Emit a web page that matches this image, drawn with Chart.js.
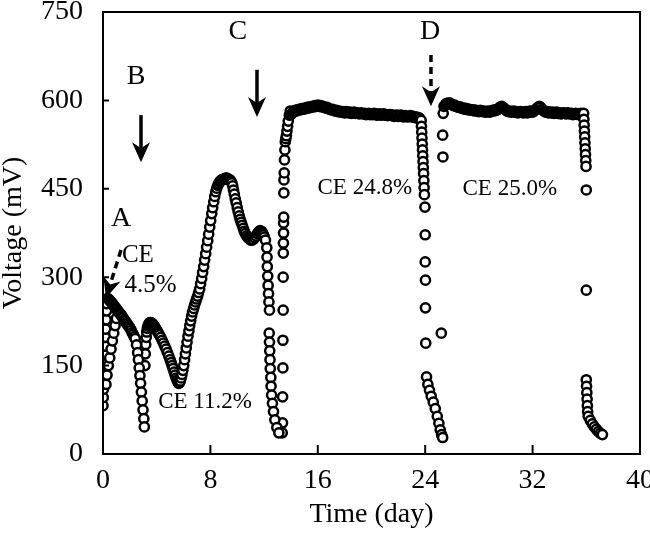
<!DOCTYPE html>
<html>
<head>
<meta charset="utf-8">
<script src="https://cdn.jsdelivr.net/npm/chart.js@4.4.1/dist/chart.umd.min.js"></script>
<style>
  html, body { margin: 0; padding: 0; background: #fff; }
  #wrap { width: 650px; height: 535px; }
</style>
</head>
<body>
<div id="wrap"><canvas id="chart" width="650" height="535"></canvas></div>
<script>
// Voltage vs time over four feeding cycles (A-D)

var FONT = '"Liberation Serif", "Times New Roman", serif';

var xTicks = [0, 8, 16, 24, 32, 40];
var yTicks = [0, 150, 300, 450, 600, 750];

// cycle A: start-up and first batch
var daysA = [0, 0.02, 0.04, 0.06, 0.08, 0.1, 0.12, 0.15, 0.18, 0.2, 0.23, 0.26, 0.3, 0.35,
  0.22, 0.3, 0.4, 0.5, 0.6, 0.7, 0.8, 0.9, 1.0,
  0.45, 0.52, 0.6, 0.67, 0.75, 0.82, 0.9, 0.97, 1.05, 1.12, 1.2, 1.27, 1.35, 1.42,
  1.5, 1.57, 1.65, 1.72, 1.8, 1.87, 1.95, 2.02, 2.1, 2.17, 2.25, 2.32, 2.4,
  2.5, 2.58, 2.64, 2.7, 2.75, 2.8, 2.86, 2.92, 2.98, 3.04, 3.08];
var voltsA = [82, 96, 110, 124, 139, 153, 168, 183, 198, 212, 228, 243, 255, 264,
  118, 134, 150, 163, 178, 192, 205, 218, 230,
  262, 260, 258, 256, 254, 251, 249, 247, 245, 242, 240, 238, 236, 233,
  231, 228, 226, 223, 221, 218, 216, 213, 210, 206, 203, 199, 196,
  185, 172, 160, 146, 133, 120, 105, 90, 75, 60, 46];

// cycle B
var daysB = [3.12, 3.15, 3.18, 3.22, 3.26, 3.3, 3.35, 3.4, 3.45, 3.5,
  3.56, 3.62, 3.68, 3.75, 3.82, 3.9, 3.98, 4.05, 4.12, 4.2,
  4.3, 4.4, 4.5, 4.6, 4.7, 4.8, 4.9, 5.0, 5.08, 5.15,
  5.22, 5.3, 5.37, 5.45, 5.52, 5.58, 5.64, 5.7, 5.76, 5.82,
  5.88, 5.95, 6.01, 6.08, 6.14, 6.2, 6.26, 6.33, 6.4, 6.46,
  6.53, 6.6, 6.67, 6.75, 6.82, 6.9, 6.97, 7.05, 7.12, 7.2,
  7.27, 7.35, 7.42, 7.5, 7.57, 7.65, 7.72, 7.8, 7.87, 7.95,
  8.02, 8.1, 8.17, 8.25, 8.32, 8.4, 8.47, 8.55, 8.62, 8.7,
  8.77, 8.85, 8.92, 9.0, 9.07, 9.15, 9.22, 9.3, 9.37, 9.45,
  9.52, 9.6, 9.66, 9.72, 9.78, 9.85, 9.92, 10.0, 10.07, 10.15,
  10.22, 10.3, 10.37, 10.45, 10.52, 10.6, 10.7, 10.8, 10.9, 11.0,
  11.1, 11.2, 11.3, 11.4, 11.5, 11.6, 11.7, 11.8, 11.88, 11.95,
  12.02, 12.1,
  12.2, 12.22, 12.24, 12.27, 12.3, 12.33, 12.36, 12.4, 12.38, 12.4,
  12.42, 12.44, 12.46, 12.5, 12.52, 12.56, 12.62, 12.7, 12.8, 12.95, 13.1];
var voltsB = [150, 170, 186, 198, 207, 213, 217, 220, 222, 223,
  223, 222, 221, 219, 217, 214, 211, 208, 205, 202,
  198, 193, 188, 183, 178, 172, 166, 160, 155, 150,
  145, 139, 134, 129, 125, 122, 120, 121, 124, 129,
  135, 142, 150, 160, 170, 180, 190, 200, 209, 218,
  226, 234, 241, 247, 253, 258, 263, 268, 274, 280,
  289, 298, 308, 318, 329, 340, 351, 362, 373, 385,
  396, 408, 418, 428, 437, 445, 451, 456, 459, 462,
  464, 465, 466, 466, 467, 468, 468, 467, 466, 465,
  463, 460, 455, 448, 441, 433, 426, 418, 411, 404,
  398, 393, 388, 383, 378, 374, 370, 367, 365, 363,
  363, 364, 367, 370, 374, 377, 379, 378, 375, 372,
  368, 363,
  350, 334, 318, 302, 286, 272, 258, 244, 205, 190,
  175, 160, 145, 130, 115, 100, 86, 72, 58, 45, 36];

// cycle C: rise, plateau, drop
var daysC = [13.35, 13.37, 13.38, 13.4, 13.4, 13.42, 13.42, 13.43, 13.44, 13.45,
  13.45, 13.46, 13.47, 13.48, 13.5, 13.52, 13.55, 13.58, 13.62, 13.66,
  13.7, 13.75, 13.8, 13.88, 13.95,
  14.0, 14.1, 14.2, 14.3, 14.4, 14.5, 14.6, 14.7, 14.8, 14.9,
  15.0, 15.1, 15.2, 15.3, 15.4, 15.5, 15.6, 15.7, 15.8, 15.9,
  16.0, 16.1, 16.2, 16.3, 16.4, 16.5, 16.6, 16.7, 16.8, 16.9,
  17.0, 17.1, 17.2, 17.3, 17.4, 17.5, 17.6, 17.7, 17.8, 17.9,
  18.0, 18.1, 18.2, 18.3, 18.4, 18.5, 18.6, 18.7, 18.8, 18.9,
  19.0, 19.1, 19.2, 19.3, 19.4, 19.5, 19.6, 19.7, 19.8, 19.9,
  20.0, 20.1, 20.2, 20.3, 20.4, 20.5, 20.6, 20.7, 20.8, 20.9,
  21.0, 21.1, 21.2, 21.3, 21.4, 21.5, 21.6, 21.7, 21.8, 21.9,
  22.0, 22.1, 22.2, 22.3, 22.4, 22.5, 22.6, 22.7, 22.8, 22.9,
  23.0, 23.1, 23.2, 23.3, 23.4, 23.5, 23.6,
  23.7, 23.72, 23.74, 23.76, 23.78, 23.8, 23.82, 23.84, 23.86, 23.88,
  23.9, 23.92, 23.94, 23.98, 24.0, 24.0, 24.02, 24.02, 24.04,
  24.1, 24.2, 24.32, 24.45, 24.6, 24.75, 24.9, 25.02, 25.12, 25.22, 25.3];
var voltsC = [36, 53, 97, 146, 193, 244, 300, 341, 358, 375,
  392, 402, 443, 465, 477, 499, 516, 530, 535, 540,
  548, 556, 565, 575, 582,
  576, 579, 581, 583, 582, 584, 585, 584, 586, 585,
  587, 586, 588, 587, 589, 588, 590, 589, 591, 590,
  592, 590, 591, 589, 590, 588, 587, 588, 586, 585,
  584, 585, 583, 582, 583, 581, 582, 580, 581, 580,
  579, 581, 580, 579, 580, 578, 579, 580, 578, 579,
  578, 577, 579, 578, 577, 578, 576, 577, 578, 576,
  577, 576, 578, 577, 575, 576, 577, 575, 576, 577,
  575, 576, 574, 575, 576, 574, 575, 573, 574, 575,
  573, 574, 575, 573, 572, 574, 573, 572, 573, 574,
  572, 573, 571, 572, 570, 571, 569,
  566, 556, 546, 536, 526, 516, 506, 496, 486, 476,
  464, 452, 440, 419, 372, 326, 295, 248, 188,
  131, 118, 108, 98, 88, 77, 64, 52, 41, 33, 28];

// cycle D
var daysD = [25.2, 25.32, 25.3, 25.34,
  25.4, 25.5, 25.6, 25.7, 25.8, 25.9, 26.0, 26.1, 26.2, 26.3,
  26.4, 26.5, 26.6, 26.7, 26.8, 26.9, 27.0, 27.1, 27.2, 27.3,
  27.4, 27.5, 27.6, 27.7, 27.8, 27.9, 28.0, 28.1, 28.2, 28.3,
  28.4, 28.5, 28.6, 28.7, 28.8, 28.9, 29.0, 29.1, 29.2, 29.3,
  29.4, 29.5, 29.6, 29.7, 29.8, 29.9, 30.0, 30.1, 30.2, 30.3,
  30.4, 30.5, 30.6, 30.7, 30.8, 30.9, 31.0, 31.1, 31.2, 31.3,
  31.4, 31.5, 31.6, 31.7, 31.8, 31.9, 32.0, 32.1, 32.2, 32.3,
  32.4, 32.5, 32.6, 32.7, 32.8, 32.9, 33.0, 33.1, 33.2, 33.3,
  33.4, 33.5, 33.6, 33.7, 33.8, 33.9, 34.0, 34.1, 34.2, 34.3,
  34.4, 34.5, 34.6, 34.7, 34.8, 34.9, 35.0, 35.1, 35.2, 35.3,
  35.4, 35.5, 35.6, 35.7,
  35.8, 35.82, 35.84, 35.86, 35.88, 35.9, 35.92, 35.94, 35.96, 35.98,
  36.0, 36.0, 36.0, 36.02, 36.04, 36.06, 36.08, 36.1, 36.14,
  36.3, 36.45, 36.6, 36.75, 36.9, 37.05, 37.2];
var voltsD = [205, 504, 541, 578,
  590, 593, 595, 594, 596, 594, 593, 591, 592, 590,
  589, 588, 589, 587, 586, 587, 585, 586, 584, 585,
  584, 583, 584, 582, 583, 582, 581, 583, 582, 581,
  582, 580, 581, 582, 580, 581, 583, 582, 584, 583,
  585, 587, 589, 590, 588, 586, 584, 582, 581, 582,
  580, 581, 582, 580, 581, 579, 580, 581, 580, 579,
  580, 581, 579, 580, 582, 581, 580, 582, 584, 586,
  588, 590, 588, 585, 583, 581, 580, 581, 579, 580,
  579, 580, 578, 579, 580, 578, 579, 577, 578, 579,
  578, 577, 579, 578, 577, 578, 576, 577, 578, 577,
  576, 577, 578, 576,
  578, 568, 558, 548, 538, 528, 518, 508, 498, 488,
  448, 278, 126, 115, 104, 93, 82, 72, 64,
  57, 51, 46, 42, 38, 35, 33];

// annotations (in data units)
var letterText = ['A', 'B', 'C', 'D'];
var letterDay = [1.34, 2.46, 10.05, 24.36];
var letterVolt = [400, 640, 716, 716];

var noteText = ['CE', '4.5%', 'CE 11.2%', 'CE 24.8%', 'CE 25.0%'];
var noteDay = [2.6, 3.55, 7.6, 19.5, 30.3];
var noteVolt = [337, 286, 88, 451, 450];
var noteSize = [25, 25, 23, 23, 23];

var arrowFrom = [[1.34, 346], [2.83, 575], [11.47, 652], [24.43, 677]];
var arrowTo = [[0.22, 265], [2.83, 495], [11.47, 572], [24.43, 590]];
var arrowDashed = [true, false, false, true];

function pts(days, volts) {
  return days.map(function (d, i) { return { x: d, y: volts[i] }; });
}

function series(label, days, volts) {
  return {
    label: label,
    data: pts(days, volts),
    showLine: false,
    pointStyle: 'circle',
    pointRadius: 4.6,
    pointBorderWidth: 2.5,
    pointBorderColor: '#000',
    pointBackgroundColor: '#fff'
  };
}

function drawArrow(ctx, x1, y1, x2, y2, dashed) {
  var ang = Math.atan2(y2 - y1, x2 - x1);
  var c = Math.cos(ang), s = Math.sin(ang);
  var len = 20, half = 9, notch = 14;
  ctx.save();
  ctx.lineWidth = 3.5;
  if (dashed) ctx.setLineDash([7, 5]);
  ctx.beginPath();
  ctx.moveTo(x1, y1);
  ctx.lineTo(x2 - c * notch, y2 - s * notch);
  ctx.stroke();
  ctx.setLineDash([]);
  ctx.beginPath();
  ctx.moveTo(x2, y2);
  ctx.lineTo(x2 - c * len - s * half, y2 - s * len + c * half);
  ctx.lineTo(x2 - c * notch, y2 - s * notch);
  ctx.lineTo(x2 - c * len + s * half, y2 - s * len - c * half);
  ctx.closePath();
  ctx.fill();
  ctx.restore();
}

var decor = {
  id: 'decor',
  afterDatasetsDraw: function (chart) {
    var ctx = chart.ctx, a = chart.chartArea;
    var xs = chart.scales.x, ys = chart.scales.y;
    ctx.save();
    ctx.strokeStyle = '#000';
    ctx.fillStyle = '#000';
    ctx.lineWidth = 2;
    ctx.strokeRect(a.left, a.top, a.right - a.left, a.bottom - a.top);

    // ticks point inwards
    ctx.beginPath();
    xTicks.forEach(function (t) {
      var px = xs.getPixelForValue(t);
      ctx.moveTo(px, a.bottom); ctx.lineTo(px, a.bottom - 9);
    });
    yTicks.forEach(function (v) {
      var py = ys.getPixelForValue(v);
      ctx.moveTo(a.left, py); ctx.lineTo(a.left + 6, py);
    });
    ctx.stroke();

    ctx.textAlign = 'center';
    ctx.textBaseline = 'middle';
    ctx.font = '28px ' + FONT;
    letterText.forEach(function (t, i) {
      ctx.fillText(t, xs.getPixelForValue(letterDay[i]), ys.getPixelForValue(letterVolt[i]));
    });
    noteText.forEach(function (t, i) {
      ctx.font = noteSize[i] + 'px ' + FONT;
      ctx.fillText(t, xs.getPixelForValue(noteDay[i]), ys.getPixelForValue(noteVolt[i]));
    });
    arrowFrom.forEach(function (f, i) {
      drawArrow(ctx,
        xs.getPixelForValue(f[0]), ys.getPixelForValue(f[1]),
        xs.getPixelForValue(arrowTo[i][0]), ys.getPixelForValue(arrowTo[i][1]),
        arrowDashed[i]);
    });
    ctx.restore();
  }
};

new Chart(document.getElementById('chart').getContext('2d'), {
  type: 'scatter',
  data: {
    datasets: [
      series('A', daysA, voltsA),
      series('B', daysB, voltsB),
      series('C', daysC, voltsC),
      series('D', daysD, voltsD)
    ]
  },
  options: {
    responsive: false,
    animation: false,
    layout: { padding: { top: 12, right: 10, left: 0, bottom: 0 } },
    plugins: { legend: { display: false }, tooltip: { enabled: false } },
    scales: {
      x: {
        type: 'linear', min: 0, max: 40,
        afterBuildTicks: function (s) { s.ticks = xTicks.map(function (v) { return { value: v }; }); },
        afterFit: function (s) { s.height = 81; s.paddingLeft = 0; s.paddingRight = 0; },
        grid: { display: false, drawTicks: false },
        border: { display: false },
        ticks: { color: '#000', padding: 10, font: { family: FONT, size: 28 } },
        title: { display: true, text: 'Time (day)', color: '#000', padding: { top: 0, bottom: 4 }, font: { family: FONT, size: 28, lineHeight: 1.2 } }
      },
      y: {
        type: 'linear', min: 0, max: 750,
        afterBuildTicks: function (s) { s.ticks = yTicks.map(function (v) { return { value: v }; }); },
        afterFit: function (s) { s.width = 103; s.paddingTop = 0; s.paddingBottom = 0; },
        grid: { display: false, drawTicks: false },
        border: { display: false },
        ticks: { color: '#000', padding: 20, font: { family: FONT, size: 28 } },
        title: { display: true, text: 'Voltage (mV)', color: '#000', padding: { top: 0, bottom: 0 }, font: { family: FONT, size: 28, lineHeight: 1 } }
      }
    }
  },
  plugins: [decor]
});
</script>
</body>
</html>
